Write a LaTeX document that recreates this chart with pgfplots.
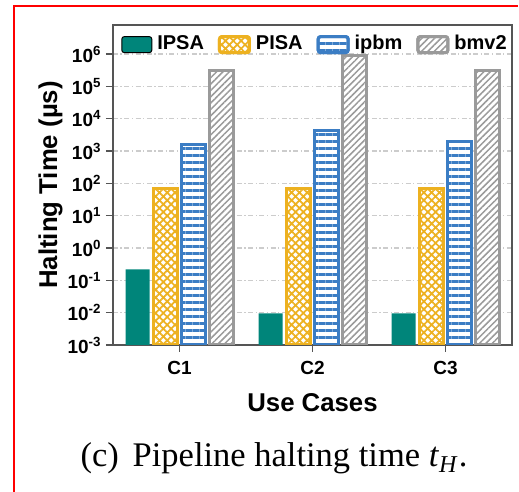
\documentclass[border=0pt]{standalone}
\usepackage{fontspec}
\setmainfont{Liberation Sans}
\newfontfamily\capfont{Liberation Serif}
\usepackage{pgfplots}
\usepackage{pgfplotstable}
\pgfplotsset{compat=1.18}
\usetikzlibrary{patterns.meta}

\definecolor{ipsa}{HTML}{00857A}
\definecolor{pisa}{HTML}{EDB120}
\definecolor{ipbm}{HTML}{3B7DC4}
\definecolor{bmv}{HTML}{9A9A9A}
\definecolor{axgray}{HTML}{555555}

% halting time in microseconds, cases C1..C3 at x = 0,1,2
\pgfplotstableread{
x ipsa   pisa ipbm bmv
0 0.22   68   1600 300000
1 0.0095 68   4200 900000
2 0.0095 68   1900 300000
}\halt

\begin{document}
\begin{tikzpicture}
\useasboundingbox (-45.2pt,-58.8pt) rectangle (162.4pt,138pt);
\draw[red, line width=0.8pt] (-39.6pt,-60pt) -- (-39.6pt,135.6pt) -- (162pt,135.6pt);
\begin{axis}[
    at={(0,0)}, anchor=south west,
    scale only axis,
    width=159.6pt, height=128pt,
    ymode=log, log origin=infty,
    ymin=1e-3, ymax=7.9e6,
    xmin=-0.5, xmax=2.5,
    xtick={0,1,2}, xticklabels={C1,C2,C3},
    ytick={1e-3,1e-2,1e-1,1,1e1,1e2,1e3,1e4,1e5,1e6},
    yticklabels={10\textsuperscript{-3},10\textsuperscript{-2},10\textsuperscript{-1},10\textsuperscript{0},10\textsuperscript{1},10\textsuperscript{2},10\textsuperscript{3},10\textsuperscript{4},10\textsuperscript{5},10\textsuperscript{6}},
    yminorticks=false,
    tick pos=left, tick align=outside,
    major tick length=2.8pt,
    tick style={axgray, line width=0.6pt},
    axis line style={axgray, line width=0.7pt},
    tick label style={font=\fontsize{7.6}{9}\selectfont\bfseries},
    yticklabel style={inner sep=1.5pt},
    ymajorgrids,
    major grid style={gray!40, line width=0.6pt, dash pattern=on 2pt off 1pt on 0.5pt off 1pt},
    ylabel={Halting Time (µs)},
    xlabel={Use Cases},
    label style={font=\fontsize{10.3}{12}\selectfont\bfseries},
    ylabel style={at={(axis description cs:0,0.5)}, anchor=center, yshift=25pt},
    xlabel style={at={(axis description cs:0.5,0)}, anchor=center, yshift=-23.2pt},
    ybar, bar width=0.18,
    legend columns=4,
    legend style={at={(0.51,1)}, anchor=north, yshift=-1pt, draw=none, fill=none,
        font=\fontsize{8}{9}\selectfont\bfseries, inner sep=1pt,
        /tikz/every even column/.append style={column sep=3.6pt}},
    legend image code/.code={\draw[#1, rounded corners=1pt] (0pt,-3.2pt) rectangle (12pt,3.2pt);},
]
\addplot[fill=ipsa, draw=none, bar shift=-0.315] table[x=x, y=ipsa] {\halt};
\addplot[draw=pisa, line width=1.2pt, fill=white, postaction={pattern={Hatch[angle=45,distance=2.2pt,line width=0.7pt]}, pattern color=pisa}, bar shift=-0.105] table[x=x, y=pisa] {\halt};
\addplot[draw=ipbm, line width=1.2pt, fill=white, postaction={pattern={Lines[angle=0,distance=2.8pt,line width=1.2pt]}, pattern color=ipbm}, bar shift=0.105] table[x=x, y=ipbm] {\halt};
\addplot[draw=bmv, line width=1.2pt, fill=white, postaction={pattern={Lines[angle=45,distance=1.8pt,line width=0.6pt]}, pattern color=bmv}, bar shift=0.315] table[x=x, y=bmv] {\halt};
\legend{IPSA,PISA,ipbm,bmv2}
\end{axis}
\node[anchor=base, font=\capfont\fontsize{13.8}{16}\selectfont] at (64.4pt,-48.8pt)
    {(c)\hspace{0.4em}Pipeline halting time \textit{t}\textsubscript{\textit{H}}.};
\end{tikzpicture}
\end{document}
